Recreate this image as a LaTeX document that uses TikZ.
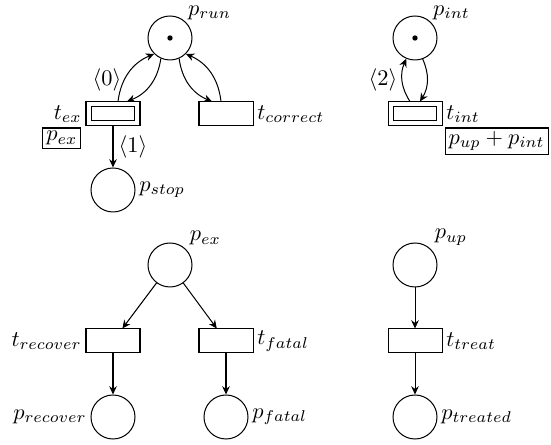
\documentclass[tikz,border=0pt]{standalone}
\usetikzlibrary{arrows.meta,calc}
\def\PX{0.447pt}
\begin{document}
\begin{tikzpicture}[x=\PX, y=-\PX, line width=0.45pt,
  place/.style={circle, draw, minimum size=44*\PX, inner sep=0pt},
  trans/.style={rectangle, draw, minimum width=54*\PX, minimum height=24*\PX, inner sep=0pt},
  innerbox/.style={rectangle, draw, minimum width=43*\PX, minimum height=14*\PX, inner sep=0pt},
  token/.style={circle, fill, inner sep=0pt, minimum size=2.4pt},
  arc/.style={-{Stealth[length=3.7pt,width=3.4pt]}},
  every label/.style={inner sep=1.5pt},
  toplabel/.style={inner sep=0.8pt},
  guard/.style={draw, rectangle, inner xsep=1.6pt, inner ysep=1.5pt},
  lab/.style={inner sep=0pt},
]
\useasboundingbox (0,0) rectangle (551,445);

% upper left net
\node[place, label={[toplabel]45:$p_{run}$}] (prun) at (170,38) {};
\node[token] (tokrun) at (prun) {};
\node[trans, label=left:$t_{ex}$] (tex) at (113,114) {};
\node[innerbox] (texin) at (tex) {};
\node[trans, label=right:$t_{correct}$] (tcor) at (226,114) {};
\node[place, label=right:$p_{stop}$] (pstop) at (113,190) {};
\node[guard, anchor=north east] (gex) at ($(tex.south west)+(-4,1)$) {$p_{ex}$};

\draw[arc] ($(tex.north)+(5,0)$) to[bend left=30] (prun.225);
\draw[arc] (prun.246) to[bend left=30] ($(tex.north)+(14,0)$);
\draw[arc] (prun.294) to[bend right=30] ($(tcor.north)+(-14,0)$);
\draw[arc] ($(tcor.north)+(-5,0)$) to[bend right=30] (prun.315);
\draw[arc] (tex) -- (pstop);
\node[lab] (l0) at (107,80) {$\langle 0\rangle$};
\node[lab] (l1) at (133,147) {$\langle 1\rangle$};

% upper right net
\node[place, label={[toplabel]45:$p_{int}$}] (pint) at (415,38) {};
\node[token] (tokint) at (pint) {};
\node[trans, label=right:$t_{int}$] (tint) at (415,114) {};
\node[innerbox] (tintin) at (tint) {};
\node[guard, anchor=north west] (gint) at ($(tint.south east)+(2,1)$) {$p_{up}+p_{int}$};
\draw[arc] ($(tint.north)+(-5,0)$) to[bend left=28] (pint.247);
\draw[arc] (pint.290) to[bend left=28] ($(tint.north)+(5,0)$);
\node[lab] (l2) at (383,80) {$\langle 2\rangle$};

% lower left net
\node[place, label=45:$p_{ex}$] (pex) at (170,265) {};
\node[trans, label=left:$t_{recover}$] (trec) at (113,341) {};
\node[trans, label=right:$t_{fatal}$] (tfat) at (226,341) {};
\node[place, label=left:$p_{recover}$] (prec) at (113,417) {};
\node[place, label=right:$p_{fatal}$] (pfat) at (226,417) {};
\draw[arc] (pex) -- (trec);
\draw[arc] (pex) -- (tfat);
\draw[arc] (trec) -- (prec);
\draw[arc] (tfat) -- (pfat);

% lower right net
\node[place, label=45:$p_{up}$] (pup) at (415,265) {};
\node[trans, label=right:$t_{treat}$] (ttreat) at (415,341) {};
\node[place, label=right:$p_{treated}$] (ptreated) at (415,417) {};
\draw[arc] (pup) -- (ttreat);
\draw[arc] (ttreat) -- (ptreated);
\end{tikzpicture}
\end{document}
